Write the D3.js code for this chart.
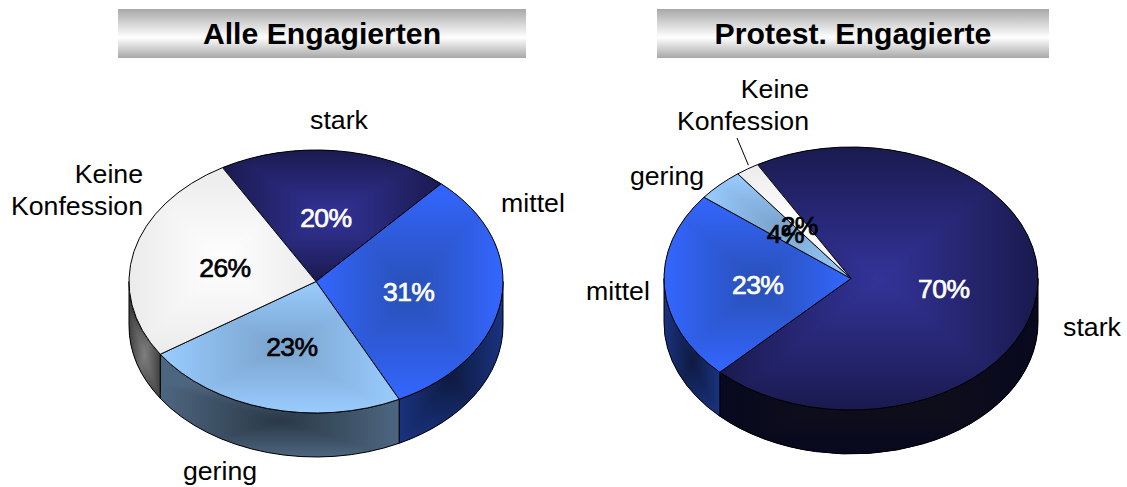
<!DOCTYPE html>
<html><head><meta charset="utf-8">
<script src="https://cdnjs.cloudflare.com/ajax/libs/d3/7.8.5/d3.min.js"></script>
<style>html,body{margin:0;padding:0;background:#fff}svg{display:block}text{font-family:"Liberation Sans",Arial,sans-serif}</style>
</head><body><svg id="c" width="1127" height="487"></svg>
<script>
const categories = ["stark", "mittel", "gering", "Keine Konfession"];
const titles = ["Alle Engagierten", "Protest. Engagierte"];
const valuesAlle = [20, 31, 23, 26];
const valuesProtest = [70, 23, 4, 2];

// styling, by category: top edge/centre, side edge/centre, percent-label colour
const topEdge   = ["#1a1a4f", "#3366ff", "#99ccff", "#ebebeb"];
const topCentre = ["#333399", "#2950b5", "#7aa3cc", "#ffffff"];
const sideEdge   = ["#08081f", "#1a3380", "#4d6680", "#404040"];
const sideCentre = ["#111118", "#0d1a40", "#2a3846", "#808080"];
const pctColour  = ["#fff", "#fff", "#000", "#000"];

const W = 1127, H = 487, RX = 187, RY = 131.5, DEPTH = 44;
const ratio = RY / RX;
const svg = d3.select("#c");
const defs = svg.append("defs");
let uid = 0;

const pie = d3.pie().sort(null).startAngle(-30 * Math.PI / 180).endAngle(330 * Math.PI / 180);
const arc = d3.arc().innerRadius(0).outerRadius(RX);

function boxFill(parent, pathD, transform, box, edge, centre) {
  const [x0, y0, x1, y1] = box;
  const cx = (x0 + x1) / 2, cy = (y0 + y1) / 2;
  const clipId = "clip" + (++uid);
  defs.append("clipPath").attr("id", clipId).append("path").attr("d", pathD).attr("transform", transform);
  const g = parent.append("g").attr("clip-path", `url(#${clipId})`);
  // base colour reaches past the box on every side, so the clip is always covered
  g.append("rect").attr("x", x0 - 60).attr("y", y0 - 60).attr("width", x1 - x0 + 120).attr("height", y1 - y0 + 120).attr("fill", edge);
  const tris = [
    {p: [[x0, y0], [x1, y0]], a: [cx, y0]},
    {p: [[x1, y0], [x1, y1]], a: [x1, cy]},
    {p: [[x1, y1], [x0, y1]], a: [cx, y1]},
    {p: [[x0, y1], [x0, y0]], a: [x0, cy]}
  ];
  tris.forEach(t => {
    const id = "grad" + (++uid);
    const lg = defs.append("linearGradient").attr("id", id).attr("gradientUnits", "userSpaceOnUse")
      .attr("x1", t.a[0]).attr("y1", t.a[1]).attr("x2", cx).attr("y2", cy);
    lg.append("stop").attr("offset", 0).attr("stop-color", edge);
    lg.append("stop").attr("offset", 1).attr("stop-color", centre);
    g.append("polygon").attr("points", [...t.p, [cx, cy]].map(q => q.join(",")).join(" "))
      .attr("fill", `url(#${id})`).attr("stroke", `url(#${id})`).attr("stroke-width", 0.6);
  });
  parent.append("path").attr("d", pathD).attr("transform", transform)
    .attr("fill", "none").attr("stroke", "#000").attr("stroke-width", 1)
    .attr("vector-effect", "non-scaling-stroke").attr("stroke-linejoin", "round");
}

// bounding box of a pie sector in screen coordinates
function sectorBox(a0, a1, cx, cy, withCentre) {
  const pts = d3.range(a0, a1 + 1e-6, (a1 - a0) / 90).map(a => [cx + RX * Math.sin(a), cy - RY * Math.cos(a)]);
  pts.push([cx + RX * Math.sin(a1), cy - RY * Math.cos(a1)]);
  if (withCentre) pts.push([cx, cy]);
  return [d3.min(pts, p => p[0]), d3.min(pts, p => p[1]), d3.max(pts, p => p[0]), d3.max(pts, p => p[1])];
}

function drawPie(values, cx, cy, title, titleBox, outer) {
  const g = svg.append("g");
  const slices = pie(values);
  const tf = `translate(${cx},${cy}) scale(1,${ratio})`;
  const d3Depth = DEPTH / ratio;

  // side wall: only the part facing the viewer (90 deg .. 270 deg clockwise from top)
  slices.forEach((s, i) => {
    const a0 = Math.max(s.startAngle, Math.PI / 2), a1 = Math.min(s.endAngle, 1.5 * Math.PI);
    if (a1 <= a0) return;
    const p = d3.path();
    p.arc(0, 0, RX, a0 - Math.PI / 2, a1 - Math.PI / 2);
    p.arc(0, d3Depth, RX, a1 - Math.PI / 2, a0 - Math.PI / 2, true);
    p.closePath();
    const b = sectorBox(a0, a1, cx, cy, false);
    b[1] += 30;
    b[3] += DEPTH;
    boxFill(g, p.toString(), tf, b, sideEdge[i], sideCentre[i]);
  });

  // top faces
  slices.forEach((s, i) => {
    const b = sectorBox(s.startAngle, s.endAngle, cx, cy, true);
    boxFill(g, arc(s), tf, b, topEdge[i], topCentre[i]);
  });

  // percent labels at the sector centroids
  const total = 100;
  slices.forEach((s, i) => {
    const [x, y] = arc.centroid(s);
    g.append("text").attr("x", cx + x).attr("y", cy + y * ratio + 11)
      .attr("text-anchor", "middle").attr("font-size", 26.5).attr("letter-spacing", -0.6)
      .attr("fill", pctColour[i]).attr("stroke", pctColour[i]).attr("stroke-width", 0.7)
      .text(d3.format(".0f")(s.value / total * 100) + "%");
  });

  // category labels
  outer.forEach(o => {
    o.lines.forEach((w, k) => {
      g.append("text").attr("x", o.x).attr("y", o.y + k * 31.5).attr("text-anchor", o.anchor)
        .attr("font-size", 26.7).attr("fill", "#000").text(w);
    });
  });

  // title band
  const id = "band" + (++uid);
  const lg = defs.append("linearGradient").attr("id", id).attr("x1", 0).attr("y1", 0).attr("x2", 0).attr("y2", 1);
  [[0, "#a8a8a8"], [0.58, "#ffffff"], [1, "#a8a8a8"]].forEach(st =>
    lg.append("stop").attr("offset", st[0]).attr("stop-color", st[1]));
  g.append("rect").attr("x", titleBox[0]).attr("y", titleBox[1]).attr("width", titleBox[2]).attr("height", titleBox[3]).attr("fill", `url(#${id})`);
  g.append("text").attr("x", titleBox[0] + titleBox[2] / 2).attr("y", titleBox[1] + 35)
    .attr("text-anchor", "middle").attr("font-size", 30.2).attr("font-weight", 700).attr("fill", "#000").text(title);
}

drawPie(valuesAlle, 316, 281.5, titles[0], [118, 9, 408, 49], [
  {lines: [categories[0]], x: 339, y: 129, anchor: "middle"},
  {lines: [categories[1]], x: 533, y: 212, anchor: "middle"},
  {lines: [categories[2]], x: 220, y: 480, anchor: "middle"},
  {lines: categories[3].split(" "), x: 143, y: 183, anchor: "end"}
]);
drawPie(valuesProtest, 851, 278.5, titles[1], [657, 9, 392, 49], [
  {lines: [categories[0]], x: 1092, y: 336, anchor: "middle"},
  {lines: [categories[1]], x: 618, y: 300, anchor: "middle"},
  {lines: [categories[2]], x: 667, y: 185, anchor: "middle"},
  {lines: categories[3].split(" "), x: 809, y: 98, anchor: "end"}
]);

// leader line from "Keine Konfession" to its slice
const keine = pie(valuesProtest)[3];
svg.append("line").attr("x1", 737).attr("y1", 138)
  .attr("x2", 851 + RX * Math.sin(keine.startAngle + 0.07)).attr("y2", 278.5 - RY * 1.03 * Math.cos(keine.startAngle + 0.07))
  .attr("stroke", "#000").attr("stroke-width", 1);
</script></body></html>
